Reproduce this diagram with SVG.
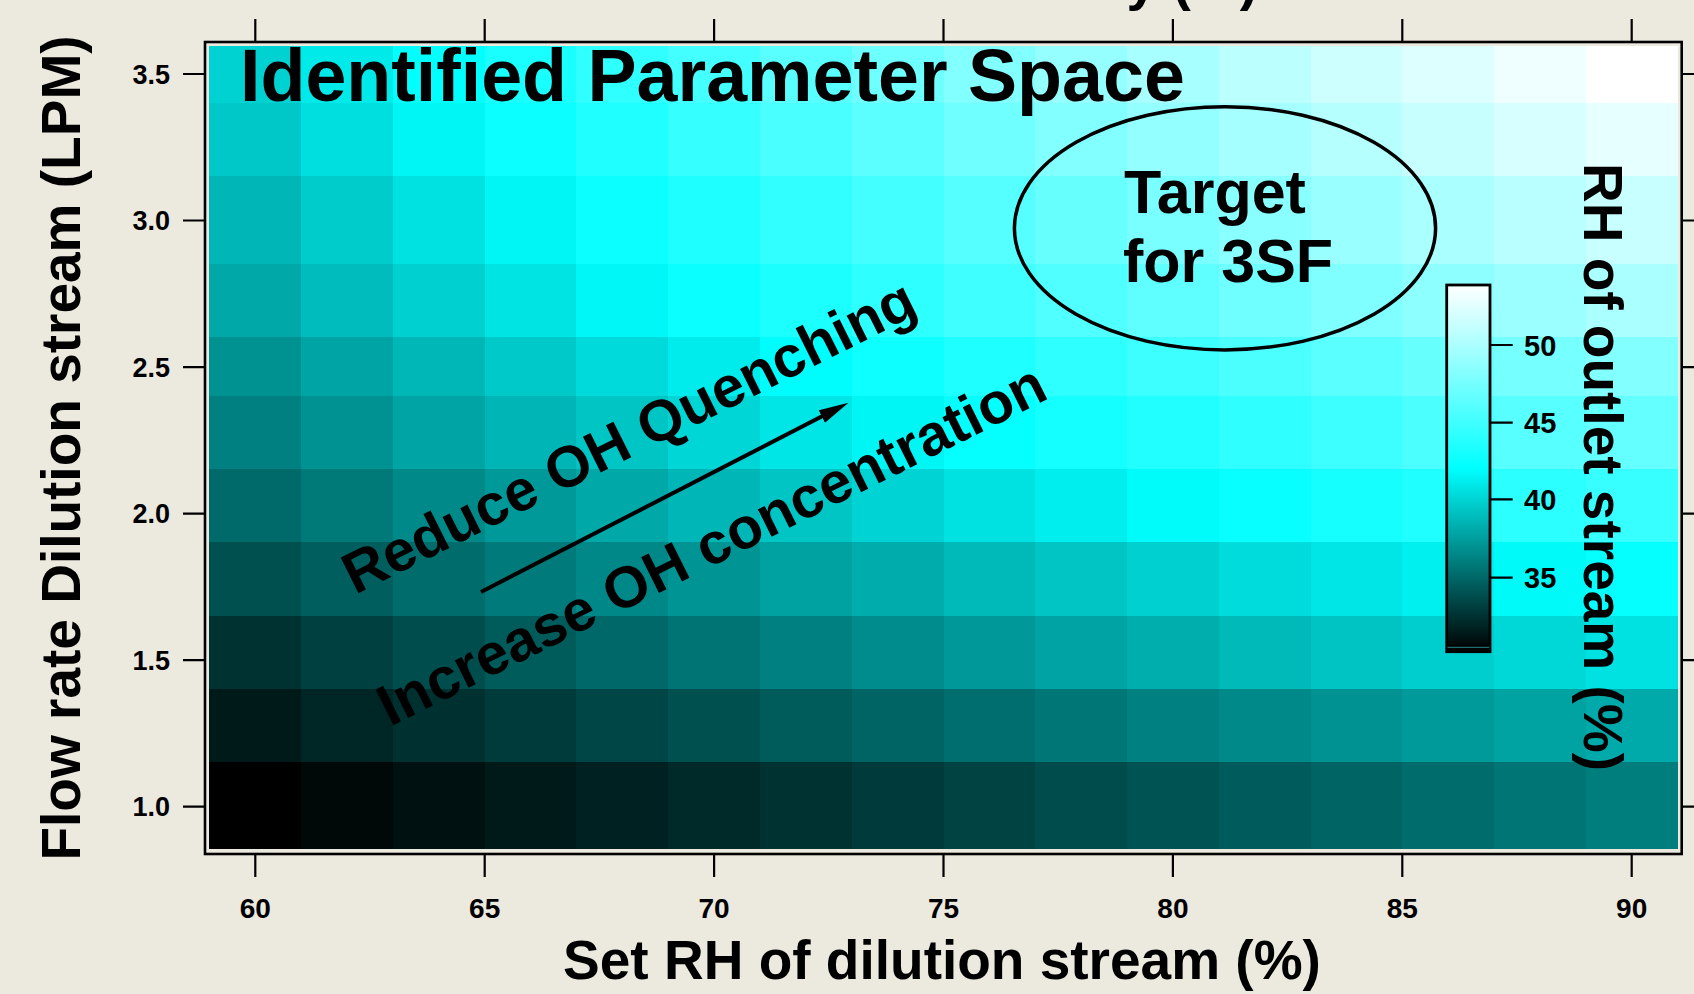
<svg xmlns="http://www.w3.org/2000/svg" width="1694" height="994" viewBox="0 0 1694 994">
  <defs>
    <style>
      text { font-family: "Liberation Sans", Arial, sans-serif; font-weight: bold; fill: #000; }
      .tick { stroke: #000; stroke-width: 2.2; fill: none; }
      .xl { font-size: 28px; text-anchor: middle; }
      .yl { font-size: 27px; text-anchor: end; }
      .cl { font-size: 29px; }
      .ttl { font-size: 55px; }
      .note { font-size: 58px; }
      #heatmap rect { shape-rendering: crispEdges; }
    </style>
    <linearGradient id="cbar" x1="0" y1="0" x2="0" y2="1">
      <stop offset="0" stop-color="#ffffff"/>
      <stop offset="0.5" stop-color="#00ffff"/>
      <stop offset="1" stop-color="#000000"/>
    </linearGradient>
    <marker id="head" markerUnits="userSpaceOnUse" markerWidth="32" markerHeight="16" refX="8" refY="7" orient="auto">
      <path d="M0,0 L30,7 L0,14 z" fill="#000"/>
    </marker>
  </defs>

  <rect width="1694" height="994" fill="#ECE9DF"/>

  <!-- cut-off top axis title -->
  <text class="ttl" x="1258" y="-1" text-anchor="end">Humidity (%)</text>

  <!-- image plot: RH of outlet stream on a 16 x 11 grid -->
  <g id="heatmap">
    <g id="row-3.5">
      <rect x="209.4" y="46" width="91.8" height="56.8" fill="#00d2d2"/>
      <rect x="301.2" y="46" width="91.8" height="56.8" fill="#00eaea"/>
      <rect x="392.9" y="46" width="91.8" height="56.8" fill="#02ffff"/>
      <rect x="484.7" y="46" width="91.8" height="56.8" fill="#19ffff"/>
      <rect x="576.4" y="46" width="91.8" height="56.8" fill="#2fffff"/>
      <rect x="668.2" y="46" width="91.8" height="56.8" fill="#44ffff"/>
      <rect x="760.0" y="46" width="91.8" height="56.8" fill="#59ffff"/>
      <rect x="851.7" y="46" width="91.8" height="56.8" fill="#6effff"/>
      <rect x="943.5" y="46" width="91.8" height="56.8" fill="#82ffff"/>
      <rect x="1035.2" y="46" width="91.8" height="56.8" fill="#95ffff"/>
      <rect x="1127.0" y="46" width="91.8" height="56.8" fill="#a8ffff"/>
      <rect x="1218.8" y="46" width="91.8" height="56.8" fill="#bbffff"/>
      <rect x="1310.5" y="46" width="91.8" height="56.8" fill="#cdffff"/>
      <rect x="1402.3" y="46" width="91.8" height="56.8" fill="#deffff"/>
      <rect x="1494.0" y="46" width="91.8" height="56.8" fill="#efffff"/>
      <rect x="1585.8" y="46" width="91.8" height="56.8" fill="#ffffff"/>
    </g>
    <g id="row-3.3">
      <rect x="209.4" y="102.8" width="91.8" height="73.3" fill="#00c8c8"/>
      <rect x="301.2" y="102.8" width="91.8" height="73.3" fill="#00dfdf"/>
      <rect x="392.9" y="102.8" width="91.8" height="73.3" fill="#00f5f5"/>
      <rect x="484.7" y="102.8" width="91.8" height="73.3" fill="#0bffff"/>
      <rect x="576.4" y="102.8" width="91.8" height="73.3" fill="#20ffff"/>
      <rect x="668.2" y="102.8" width="91.8" height="73.3" fill="#35ffff"/>
      <rect x="760.0" y="102.8" width="91.8" height="73.3" fill="#49ffff"/>
      <rect x="851.7" y="102.8" width="91.8" height="73.3" fill="#5cffff"/>
      <rect x="943.5" y="102.8" width="91.8" height="73.3" fill="#6fffff"/>
      <rect x="1035.2" y="102.8" width="91.8" height="73.3" fill="#82ffff"/>
      <rect x="1127.0" y="102.8" width="91.8" height="73.3" fill="#94ffff"/>
      <rect x="1218.8" y="102.8" width="91.8" height="73.3" fill="#a5ffff"/>
      <rect x="1310.5" y="102.8" width="91.8" height="73.3" fill="#b6ffff"/>
      <rect x="1402.3" y="102.8" width="91.8" height="73.3" fill="#c7ffff"/>
      <rect x="1494.0" y="102.8" width="91.8" height="73.3" fill="#d7ffff"/>
      <rect x="1585.8" y="102.8" width="91.8" height="73.3" fill="#e6ffff"/>
    </g>
    <g id="row-3.0">
      <rect x="209.4" y="176.1" width="91.8" height="87.9" fill="#00b6b6"/>
      <rect x="301.2" y="176.1" width="91.8" height="87.9" fill="#00cccc"/>
      <rect x="392.9" y="176.1" width="91.8" height="87.9" fill="#00e1e1"/>
      <rect x="484.7" y="176.1" width="91.8" height="87.9" fill="#00f5f5"/>
      <rect x="576.4" y="176.1" width="91.8" height="87.9" fill="#0bffff"/>
      <rect x="668.2" y="176.1" width="91.8" height="87.9" fill="#1effff"/>
      <rect x="760.0" y="176.1" width="91.8" height="87.9" fill="#31ffff"/>
      <rect x="851.7" y="176.1" width="91.8" height="87.9" fill="#44ffff"/>
      <rect x="943.5" y="176.1" width="91.8" height="87.9" fill="#56ffff"/>
      <rect x="1035.2" y="176.1" width="91.8" height="87.9" fill="#68ffff"/>
      <rect x="1127.0" y="176.1" width="91.8" height="87.9" fill="#79ffff"/>
      <rect x="1218.8" y="176.1" width="91.8" height="87.9" fill="#8affff"/>
      <rect x="1310.5" y="176.1" width="91.8" height="87.9" fill="#9affff"/>
      <rect x="1402.3" y="176.1" width="91.8" height="87.9" fill="#aaffff"/>
      <rect x="1494.0" y="176.1" width="91.8" height="87.9" fill="#b9ffff"/>
      <rect x="1585.8" y="176.1" width="91.8" height="87.9" fill="#c8ffff"/>
    </g>
    <g id="row-2.7">
      <rect x="209.4" y="264" width="91.8" height="73.2" fill="#00a8a8"/>
      <rect x="301.2" y="264" width="91.8" height="73.2" fill="#00bcbc"/>
      <rect x="392.9" y="264" width="91.8" height="73.2" fill="#00d0d0"/>
      <rect x="484.7" y="264" width="91.8" height="73.2" fill="#00e4e4"/>
      <rect x="576.4" y="264" width="91.8" height="73.2" fill="#00f7f7"/>
      <rect x="668.2" y="264" width="91.8" height="73.2" fill="#0affff"/>
      <rect x="760.0" y="264" width="91.8" height="73.2" fill="#1cffff"/>
      <rect x="851.7" y="264" width="91.8" height="73.2" fill="#2effff"/>
      <rect x="943.5" y="264" width="91.8" height="73.2" fill="#3fffff"/>
      <rect x="1035.2" y="264" width="91.8" height="73.2" fill="#50ffff"/>
      <rect x="1127.0" y="264" width="91.8" height="73.2" fill="#60ffff"/>
      <rect x="1218.8" y="264" width="91.8" height="73.2" fill="#70ffff"/>
      <rect x="1310.5" y="264" width="91.8" height="73.2" fill="#7fffff"/>
      <rect x="1402.3" y="264" width="91.8" height="73.2" fill="#8effff"/>
      <rect x="1494.0" y="264" width="91.8" height="73.2" fill="#9cffff"/>
      <rect x="1585.8" y="264" width="91.8" height="73.2" fill="#aaffff"/>
    </g>
    <g id="row-2.5">
      <rect x="209.4" y="337.2" width="91.8" height="58.6" fill="#009191"/>
      <rect x="301.2" y="337.2" width="91.8" height="58.6" fill="#00a4a4"/>
      <rect x="392.9" y="337.2" width="91.8" height="58.6" fill="#00b7b7"/>
      <rect x="484.7" y="337.2" width="91.8" height="58.6" fill="#00c9c9"/>
      <rect x="576.4" y="337.2" width="91.8" height="58.6" fill="#00dada"/>
      <rect x="668.2" y="337.2" width="91.8" height="58.6" fill="#00ecec"/>
      <rect x="760.0" y="337.2" width="91.8" height="58.6" fill="#00fdfd"/>
      <rect x="851.7" y="337.2" width="91.8" height="58.6" fill="#0effff"/>
      <rect x="943.5" y="337.2" width="91.8" height="58.6" fill="#1effff"/>
      <rect x="1035.2" y="337.2" width="91.8" height="58.6" fill="#2effff"/>
      <rect x="1127.0" y="337.2" width="91.8" height="58.6" fill="#3dffff"/>
      <rect x="1218.8" y="337.2" width="91.8" height="58.6" fill="#4bffff"/>
      <rect x="1310.5" y="337.2" width="91.8" height="58.6" fill="#5affff"/>
      <rect x="1402.3" y="337.2" width="91.8" height="58.6" fill="#68ffff"/>
      <rect x="1494.0" y="337.2" width="91.8" height="58.6" fill="#75ffff"/>
      <rect x="1585.8" y="337.2" width="91.8" height="58.6" fill="#82ffff"/>
    </g>
    <g id="row-2.3">
      <rect x="209.4" y="395.8" width="91.8" height="73.3" fill="#008080"/>
      <rect x="301.2" y="395.8" width="91.8" height="73.3" fill="#009292"/>
      <rect x="392.9" y="395.8" width="91.8" height="73.3" fill="#00a4a4"/>
      <rect x="484.7" y="395.8" width="91.8" height="73.3" fill="#00b5b5"/>
      <rect x="576.4" y="395.8" width="91.8" height="73.3" fill="#00c5c5"/>
      <rect x="668.2" y="395.8" width="91.8" height="73.3" fill="#00d6d6"/>
      <rect x="760.0" y="395.8" width="91.8" height="73.3" fill="#00e6e6"/>
      <rect x="851.7" y="395.8" width="91.8" height="73.3" fill="#00f5f5"/>
      <rect x="943.5" y="395.8" width="91.8" height="73.3" fill="#05ffff"/>
      <rect x="1035.2" y="395.8" width="91.8" height="73.3" fill="#14ffff"/>
      <rect x="1127.0" y="395.8" width="91.8" height="73.3" fill="#22ffff"/>
      <rect x="1218.8" y="395.8" width="91.8" height="73.3" fill="#30ffff"/>
      <rect x="1310.5" y="395.8" width="91.8" height="73.3" fill="#3effff"/>
      <rect x="1402.3" y="395.8" width="91.8" height="73.3" fill="#4bffff"/>
      <rect x="1494.0" y="395.8" width="91.8" height="73.3" fill="#58ffff"/>
      <rect x="1585.8" y="395.8" width="91.8" height="73.3" fill="#64ffff"/>
    </g>
    <g id="row-2.0">
      <rect x="209.4" y="469.1" width="91.8" height="73.2" fill="#006969"/>
      <rect x="301.2" y="469.1" width="91.8" height="73.2" fill="#007979"/>
      <rect x="392.9" y="469.1" width="91.8" height="73.2" fill="#008989"/>
      <rect x="484.7" y="469.1" width="91.8" height="73.2" fill="#009999"/>
      <rect x="576.4" y="469.1" width="91.8" height="73.2" fill="#00a8a8"/>
      <rect x="668.2" y="469.1" width="91.8" height="73.2" fill="#00b6b6"/>
      <rect x="760.0" y="469.1" width="91.8" height="73.2" fill="#00c5c5"/>
      <rect x="851.7" y="469.1" width="91.8" height="73.2" fill="#00d3d3"/>
      <rect x="943.5" y="469.1" width="91.8" height="73.2" fill="#00e1e1"/>
      <rect x="1035.2" y="469.1" width="91.8" height="73.2" fill="#00eeee"/>
      <rect x="1127.0" y="469.1" width="91.8" height="73.2" fill="#00fbfb"/>
      <rect x="1218.8" y="469.1" width="91.8" height="73.2" fill="#08ffff"/>
      <rect x="1310.5" y="469.1" width="91.8" height="73.2" fill="#15ffff"/>
      <rect x="1402.3" y="469.1" width="91.8" height="73.2" fill="#20ffff"/>
      <rect x="1494.0" y="469.1" width="91.8" height="73.2" fill="#2cffff"/>
      <rect x="1585.8" y="469.1" width="91.8" height="73.2" fill="#37ffff"/>
    </g>
    <g id="row-1.8">
      <rect x="209.4" y="542.3" width="91.8" height="73.3" fill="#005050"/>
      <rect x="301.2" y="542.3" width="91.8" height="73.3" fill="#005e5e"/>
      <rect x="392.9" y="542.3" width="91.8" height="73.3" fill="#006c6c"/>
      <rect x="484.7" y="542.3" width="91.8" height="73.3" fill="#007a7a"/>
      <rect x="576.4" y="542.3" width="91.8" height="73.3" fill="#008787"/>
      <rect x="668.2" y="542.3" width="91.8" height="73.3" fill="#009494"/>
      <rect x="760.0" y="542.3" width="91.8" height="73.3" fill="#00a1a1"/>
      <rect x="851.7" y="542.3" width="91.8" height="73.3" fill="#00adad"/>
      <rect x="943.5" y="542.3" width="91.8" height="73.3" fill="#00b9b9"/>
      <rect x="1035.2" y="542.3" width="91.8" height="73.3" fill="#00c5c5"/>
      <rect x="1127.0" y="542.3" width="91.8" height="73.3" fill="#00d0d0"/>
      <rect x="1218.8" y="542.3" width="91.8" height="73.3" fill="#00dbdb"/>
      <rect x="1310.5" y="542.3" width="91.8" height="73.3" fill="#00e6e6"/>
      <rect x="1402.3" y="542.3" width="91.8" height="73.3" fill="#00f0f0"/>
      <rect x="1494.0" y="542.3" width="91.8" height="73.3" fill="#00fafa"/>
      <rect x="1585.8" y="542.3" width="91.8" height="73.3" fill="#05ffff"/>
    </g>
    <g id="row-1.5">
      <rect x="209.4" y="615.6" width="91.8" height="73.2" fill="#003232"/>
      <rect x="301.2" y="615.6" width="91.8" height="73.2" fill="#004040"/>
      <rect x="392.9" y="615.6" width="91.8" height="73.2" fill="#004d4d"/>
      <rect x="484.7" y="615.6" width="91.8" height="73.2" fill="#005b5b"/>
      <rect x="576.4" y="615.6" width="91.8" height="73.2" fill="#006868"/>
      <rect x="668.2" y="615.6" width="91.8" height="73.2" fill="#007474"/>
      <rect x="760.0" y="615.6" width="91.8" height="73.2" fill="#008080"/>
      <rect x="851.7" y="615.6" width="91.8" height="73.2" fill="#008c8c"/>
      <rect x="943.5" y="615.6" width="91.8" height="73.2" fill="#009898"/>
      <rect x="1035.2" y="615.6" width="91.8" height="73.2" fill="#00a3a3"/>
      <rect x="1127.0" y="615.6" width="91.8" height="73.2" fill="#00aeae"/>
      <rect x="1218.8" y="615.6" width="91.8" height="73.2" fill="#00b9b9"/>
      <rect x="1310.5" y="615.6" width="91.8" height="73.2" fill="#00c4c4"/>
      <rect x="1402.3" y="615.6" width="91.8" height="73.2" fill="#00cece"/>
      <rect x="1494.0" y="615.6" width="91.8" height="73.2" fill="#00d8d8"/>
      <rect x="1585.8" y="615.6" width="91.8" height="73.2" fill="#00e1e1"/>
    </g>
    <g id="row-1.3">
      <rect x="209.4" y="688.8" width="91.8" height="73.3" fill="#001a1a"/>
      <rect x="301.2" y="688.8" width="91.8" height="73.3" fill="#002525"/>
      <rect x="392.9" y="688.8" width="91.8" height="73.3" fill="#003131"/>
      <rect x="484.7" y="688.8" width="91.8" height="73.3" fill="#003b3b"/>
      <rect x="576.4" y="688.8" width="91.8" height="73.3" fill="#004646"/>
      <rect x="668.2" y="688.8" width="91.8" height="73.3" fill="#005050"/>
      <rect x="760.0" y="688.8" width="91.8" height="73.3" fill="#005b5b"/>
      <rect x="851.7" y="688.8" width="91.8" height="73.3" fill="#006464"/>
      <rect x="943.5" y="688.8" width="91.8" height="73.3" fill="#006e6e"/>
      <rect x="1035.2" y="688.8" width="91.8" height="73.3" fill="#007777"/>
      <rect x="1127.0" y="688.8" width="91.8" height="73.3" fill="#008080"/>
      <rect x="1218.8" y="688.8" width="91.8" height="73.3" fill="#008989"/>
      <rect x="1310.5" y="688.8" width="91.8" height="73.3" fill="#009292"/>
      <rect x="1402.3" y="688.8" width="91.8" height="73.3" fill="#009a9a"/>
      <rect x="1494.0" y="688.8" width="91.8" height="73.3" fill="#00a2a2"/>
      <rect x="1585.8" y="688.8" width="91.8" height="73.3" fill="#00aaaa"/>
    </g>
    <g id="row-1.0">
      <rect x="209.4" y="762.1" width="91.8" height="86.9" fill="#000000"/>
      <rect x="301.2" y="762.1" width="91.8" height="86.9" fill="#000808"/>
      <rect x="392.9" y="762.1" width="91.8" height="86.9" fill="#001111"/>
      <rect x="484.7" y="762.1" width="91.8" height="86.9" fill="#001919"/>
      <rect x="576.4" y="762.1" width="91.8" height="86.9" fill="#002121"/>
      <rect x="668.2" y="762.1" width="91.8" height="86.9" fill="#002a2a"/>
      <rect x="760.0" y="762.1" width="91.8" height="86.9" fill="#003232"/>
      <rect x="851.7" y="762.1" width="91.8" height="86.9" fill="#003a3a"/>
      <rect x="943.5" y="762.1" width="91.8" height="86.9" fill="#004343"/>
      <rect x="1035.2" y="762.1" width="91.8" height="86.9" fill="#004b4b"/>
      <rect x="1127.0" y="762.1" width="91.8" height="86.9" fill="#005353"/>
      <rect x="1218.8" y="762.1" width="91.8" height="86.9" fill="#005c5c"/>
      <rect x="1310.5" y="762.1" width="91.8" height="86.9" fill="#006464"/>
      <rect x="1402.3" y="762.1" width="91.8" height="86.9" fill="#006c6c"/>
      <rect x="1494.0" y="762.1" width="91.8" height="86.9" fill="#007575"/>
      <rect x="1585.8" y="762.1" width="91.8" height="86.9" fill="#007d7d"/>
    </g>
  </g>

  <!-- plot frame and axes -->
  <g id="axes">
    <rect x="205" y="42" width="1476.7" height="812" fill="none" stroke="#000" stroke-width="2.6"/>
    <path class="tick" d="M255.3,19V42 M484.7,19V42 M714.1,19V42 M943.5,19V42 M1172.9,19V42 M1402.3,19V42 M1631.7,19V42"/>
    <path class="tick" d="M255.3,855V877 M484.7,855V877 M714.1,855V877 M943.5,855V877 M1172.9,855V877 M1402.3,855V877 M1631.7,855V877"/>
    <path class="tick" d="M183,74H205 M183,220.5H205 M183,367.1H205 M183,513.6H205 M183,660.2H205 M183,806.7H205"/>
    <path class="tick" d="M1681.7,74H1694 M1681.7,220.5H1694 M1681.7,367.1H1694 M1681.7,513.6H1694 M1681.7,660.2H1694 M1681.7,806.7H1694"/>
    <g id="x-tick-labels">
      <text class="xl" x="255.3" y="918">60</text>
      <text class="xl" x="484.7" y="918">65</text>
      <text class="xl" x="714.1" y="918">70</text>
      <text class="xl" x="943.5" y="918">75</text>
      <text class="xl" x="1172.9" y="918">80</text>
      <text class="xl" x="1402.3" y="918">85</text>
      <text class="xl" x="1631.7" y="918">90</text>
    </g>
    <g id="y-tick-labels">
      <text class="yl" x="170" y="83.7">3.5</text>
      <text class="yl" x="170" y="230.2">3.0</text>
      <text class="yl" x="170" y="376.8">2.5</text>
      <text class="yl" x="170" y="523.3">2.0</text>
      <text class="yl" x="170" y="669.9">1.5</text>
      <text class="yl" x="170" y="816.4">1.0</text>
    </g>
    <text id="x-title" class="ttl" x="942" y="979" text-anchor="middle">Set RH of dilution stream (%)</text>
    <text id="y-title" class="ttl" transform="translate(80,448) rotate(-90)" text-anchor="middle">Flow rate Dilution stream (LPM)</text>
  </g>

  <text id="title" x="240" y="100.5" font-size="73.6">Identified Parameter Space</text>

  <g id="target">
    <ellipse cx="1225" cy="228.3" rx="210.6" ry="121.6" fill="none" stroke="#000" stroke-width="3.5"/>
    <text x="1124" y="212.7" font-size="61">Target</text>
    <text x="1123" y="281.7" font-size="61">for 3SF</text>
  </g>

  <g id="trend-labels">
    <text class="note" transform="translate(355,595) rotate(-26.5)">Reduce OH Quenching</text>
    <text class="note" transform="translate(390,727) rotate(-26.5)">Increase OH concentration</text>
  </g>

  <g id="connectors">
    <line x1="481" y1="592" x2="828.9" y2="412.8" stroke="#000" stroke-width="4" marker-end="url(#head)"/>
  </g>

  <g id="colorbar">
    <rect x="1446.7" y="285" width="43.3" height="366.7" fill="url(#cbar)" stroke="#000" stroke-width="2.8"/>
    <path d="M1447.5,647.2H1489.2" stroke="#1d6f6f" stroke-width="1.4"/>
    <path d="M1447.5,645.8H1489.2" stroke="#000" stroke-width="1.4"/>
    <path class="tick" d="M1490,345H1512.7 M1490,422.7H1512.7 M1490,499.3H1512.7 M1490,577.7H1512.7"/>
    <text class="cl" x="1524" y="355.5">50</text>
    <text class="cl" x="1524" y="433.2">45</text>
    <text class="cl" x="1524" y="509.8">40</text>
    <text class="cl" x="1524" y="588.2">35</text>
    <text id="cbar-title" class="ttl" transform="translate(1584,467) rotate(90)" text-anchor="middle">RH of outlet stream (%)</text>
  </g>
</svg>
